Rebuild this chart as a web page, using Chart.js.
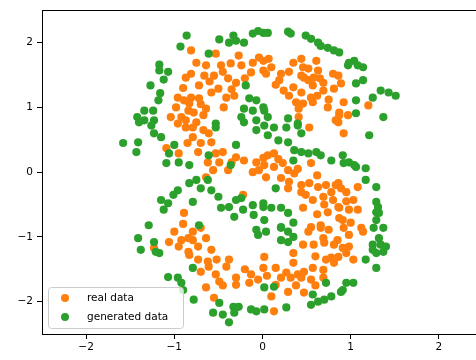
<!DOCTYPE html>
<html>
<head>
<meta charset="utf-8">
<script src="https://cdn.jsdelivr.net/npm/chart.js@4.4.0/dist/chart.umd.min.js"></script>
<style>
  html, body { margin: 0; padding: 0; overflow: hidden; background: #fff; }
  canvas { display: block; }
</style>
</head>
<body>
<canvas id="canvas"></canvas>
<script>
// Tick labels
const xTicks = [-2, -1, 0, 1, 2];
const yTicks = [-2, -1, 0, 1, 2];

// Series: [x, y] pairs
const realData = [
  [-0.81,1.88],[-0.87,1.46],[-0.81,1.52],[-0.96,1.15],[-0.89,1.11],[-0.98,1.00],[-0.84,0.95],[-0.92,0.85],[-1.04,0.85],[-0.87,0.80],
  [-0.53,1.83],[-0.75,1.69],[-0.64,1.65],[-0.47,1.65],[-0.36,1.68],[-0.27,1.80],[-0.24,1.65],[-0.11,1.69],[-0.04,1.77],[-0.13,1.54],
  [0.01,1.57],[-0.66,1.49],[-0.55,1.49],[-0.39,1.45],[-0.30,1.38],[-0.72,1.34],[-0.50,1.29],[-0.58,1.23],[-0.41,1.15],[-0.32,1.18],
  [-0.81,1.15],[-0.72,1.14],[-0.83,1.06],[-0.64,0.98],[-0.44,1.00],[-0.78,0.92],[-0.67,0.88],[-0.75,0.77],
  [0.07,1.75],[0.01,1.72],[0.35,1.69],[0.44,1.75],[0.61,1.72],[0.46,1.62],[0.21,1.52],[0.04,1.52],[0.44,1.49],[0.47,1.46],
  [0.52,1.42],[0.58,1.46],[0.63,1.57],[0.80,1.52],[0.57,1.34],[0.69,1.38],[0.19,1.42],[0.81,1.29],[0.24,1.26],[0.35,1.31],
  [0.44,1.23],[0.69,1.26],[0.55,1.15],[0.57,1.08],[0.38,1.08],[0.46,1.06],[0.41,0.98],[0.74,1.00],[0.87,0.92],[0.41,0.85],[0.83,0.80],
  [0.86,1.49],[0.89,1.37],[0.92,1.08],[1.20,1.03],[0.87,0.88],[0.97,0.88],
  [-0.60,1.40],[-0.45,1.55],[-0.20,1.45],[0.10,1.62],[0.30,1.55],[0.52,1.60],[0.65,1.45],[0.30,1.18],[0.62,1.18],[-0.35,1.28],
  [-0.90,1.30],[-0.70,1.05],[0.75,1.12],[0.15,1.35],
  [-0.96,0.75],[-0.87,0.69],[-1.09,0.37],[-0.95,0.29],[-0.89,-0.63],
  [-0.79,0.69],[-0.67,0.65],[-0.61,0.60],[-0.79,0.54],[-0.58,0.46],[-0.73,0.31],[-0.53,0.29],[-0.45,0.31],[-0.49,0.15],[-0.30,0.23],
  [-0.21,0.18],[-0.07,0.15],[0.01,0.22],[-0.56,0.03],[-0.39,0.03],[-0.11,0.00],[-0.04,0.03],[-0.64,-0.08],[-0.22,-0.35],
  [-0.70,0.45],[-0.62,0.15],[-0.35,0.15],[-0.85,0.45],
  [0.53,0.69],[0.06,0.26],[0.13,0.29],[0.23,0.14],[0.02,0.11],[0.13,0.08],[0.29,0.03],[0.36,-0.02],[0.04,-0.08],[0.21,-0.09],
  [0.55,0.14],[0.30,-0.15],[0.44,-0.20],[0.53,-0.17],[0.63,-0.23],[0.72,-0.20],[0.83,-0.20],[0.78,-0.31],[0.89,-0.25],[0.29,-0.25],
  [0.44,-0.31],[0.49,-0.35],[0.57,-0.43],[0.69,-0.38],[0.80,-0.43],[0.86,-0.54],[0.74,-0.62],[0.46,-0.55],[0.87,-0.71],[0.66,-0.82],[0.55,-0.85],
  [0.18,0.20],[0.40,0.05],[0.62,-0.05],[0.70,-0.50],[0.62,-0.65],[0.95,-0.45],
  [0.86,0.77],[0.92,0.60],[0.86,-0.17],[0.95,-0.31],[1.08,-0.23],[1.03,-0.43],[0.87,-0.55],[0.98,-0.58],[1.08,-0.58],[0.91,-0.74],[1.00,-0.78],[1.12,-0.86],
  [-1.00,-0.92],[-1.06,-1.08],[-0.92,-1.05],[-0.84,-1.02],[-1.23,-1.17],[-0.83,-1.28],
  [-0.79,-0.92],[-0.70,-0.86],[-0.64,-1.02],[-0.79,-1.05],[-0.73,-1.15],[-0.58,-1.20],[-0.84,-1.23],[-0.73,-1.35],[-0.62,-1.38],[-0.61,-1.46],
  [-0.70,-1.54],[-0.38,-1.35],[-0.41,-1.46],[-0.53,-1.58],[-0.49,-1.69],[-0.30,-1.63],[-0.30,-1.74],[-0.13,-1.58],[-0.05,-1.66],[-0.15,-1.71],
  [0.02,-1.31],[-0.64,-1.78],[-0.55,-1.94],
  [-0.90,-0.80],[-0.52,-1.35],[-0.45,-1.75],[-0.20,-1.50],[0.05,-1.60],[-0.95,-1.15],
  [0.52,-0.92],[0.66,-0.86],[0.75,-0.89],[0.69,-1.02],[0.70,-1.09],[0.81,-1.12],[0.46,-1.12],[0.58,-1.12],[0.35,-1.25],[0.78,-1.32],
  [0.72,-1.35],[0.81,-1.40],[0.01,-1.48],[0.15,-1.48],[0.27,-1.55],[0.40,-1.58],[0.47,-1.54],[0.57,-1.48],[0.69,-1.51],[0.21,-1.63],
  [0.32,-1.63],[0.44,-1.63],[0.55,-1.66],[0.69,-1.63],[0.15,-1.74],[0.29,-1.85],[0.47,-1.86],[0.10,-1.92],[0.13,-2.15],
  [0.35,-1.40],[0.60,-1.30],[0.85,-1.05],[0.38,-1.75],[0.60,-1.75],
  [0.92,-0.86],[0.98,-0.97],[1.14,-0.92],[0.91,-1.17],[0.98,-1.15],[0.95,-1.25],[0.86,-1.31],[1.03,-1.35]
];

const generatedData = [
  [-0.86,2.11],[-0.93,1.94],[-1.17,1.66],[-1.07,1.55],[-1.12,1.43],[-1.17,1.57],[-1.27,1.34],[-1.16,1.22],[-1.18,1.11],[-1.34,0.95],
  [-1.24,0.95],[-1.42,0.85],[-1.34,0.80],[-1.23,0.80],
  [-0.49,2.05],[-0.33,2.11],[-0.30,2.03],[-0.38,2.00],[-0.21,2.00],[-0.11,2.14],[-0.05,2.18],[0.01,2.15],[-0.61,1.83],[-0.19,1.34],
  [-0.15,1.14],[-0.07,1.11],[-0.21,0.98],[-0.11,0.95],[0.01,1.00],[-0.24,0.85],[-0.07,0.80],[-0.53,0.75],
  [0.06,2.15],[0.29,2.17],[0.32,2.14],[0.49,2.11],[0.55,2.06],[0.63,2.00],[0.66,1.95],[0.74,1.92],[0.81,1.88],[0.87,1.85],
  [0.02,0.95],[0.06,0.85],[0.29,0.83],[0.40,0.75],
  [0.98,1.69],[1.04,1.72],[1.08,1.65],[1.14,1.62],[0.97,1.65],[1.06,1.37],[1.14,1.42],[1.34,1.26],[1.43,1.23],[1.51,1.18],
  [1.25,1.15],[1.06,1.11],[1.06,0.91],[1.37,0.85],
  [-1.40,0.77],[-1.26,0.72],[-1.23,0.60],[-1.15,0.54],[-1.58,0.45],[-1.41,0.46],[-1.43,0.31],[-1.00,0.42],[-1.06,0.29],[-1.09,0.14],
  [-0.95,0.15],[-0.96,-0.28],[-1.01,-0.35],[-1.15,-0.43],[-1.07,-0.48],[-1.12,-0.58],[-1.29,-0.82],[-0.83,-0.17],
  [-0.53,0.69],[-0.21,0.77],[-0.07,0.65],[-0.30,0.42],[-0.61,0.26],[-0.83,0.11],[-0.36,0.11],[-0.75,-0.12],[-0.62,-0.12],[-0.70,-0.25],
  [-0.58,-0.28],[-0.50,-0.38],[-0.79,-0.46],[-0.30,-0.43],[-0.24,-0.40],[-0.38,-0.54],[-0.47,-0.55],[-0.22,-0.58],[-0.11,-0.51],[0.01,-0.48],
  [-0.32,-0.69],[-0.10,-0.66],[-0.72,-0.82],
  [0.02,0.72],[0.13,0.69],[0.27,0.69],[0.40,0.72],[0.44,0.60],[0.06,0.57],[0.18,0.49],[0.29,0.46],[0.36,0.34],[0.44,0.31],
  [0.52,0.29],[0.61,0.31],[0.66,0.26],[0.78,0.18],[0.35,0.18],[0.15,-0.25],[0.01,-0.54],[0.10,-0.55],[0.21,-0.55],[0.29,-0.63],
  [0.02,-0.74],[0.21,-0.85],[0.35,-0.78],
  [1.21,0.57],[0.91,0.26],[0.98,0.15],[0.92,0.14],[1.04,0.11],[1.06,0.08],[1.17,0.06],[1.17,-0.12],[1.29,-0.23],[1.29,-0.46],
  [1.31,-0.54],[1.29,-0.62],[1.32,-0.63],[1.29,-0.74],[1.26,-0.86],[1.37,-0.86],
  [-1.41,-1.02],[-1.38,-1.20],[-1.23,-1.08],[-1.21,-1.23],[-1.17,-1.25],[-1.07,-1.62],[-0.96,-1.63],[-0.92,-1.71],[-0.90,-1.82],
  [-0.07,-0.89],[-0.05,-0.97],[0.04,-0.92],[-0.79,-1.48],[-0.78,-1.97],[-0.49,-2.02],[-0.56,-2.17],[-0.45,-2.20],[-0.38,-2.32],[-0.33,-2.08],
  [-0.27,-2.08],[-0.32,-2.17],[-0.13,-2.12],[-0.07,-2.15],[0.02,-2.12],
  [0.21,-0.86],[0.29,-0.92],[0.35,-1.00],[0.29,-1.08],[0.21,-1.05],[0.02,-1.78],[0.13,-1.77],[0.57,-1.89],[0.55,-2.05],[0.63,-2.00],
  [0.70,-1.97],[0.78,-1.92],[0.72,-1.71],[0.89,-1.85],[0.27,-2.09],
  [1.32,-1.02],[1.25,-1.12],[1.34,-1.12],[1.40,-1.15],[1.25,-1.20],[1.29,-1.25],[1.37,-1.23],[1.17,-1.35],[1.29,-1.48],[0.95,-1.71],
  [1.03,-1.71],[0.91,-1.82]
];

const seriesNames = ['real data', 'generated data'];
const seriesColors = ['#ff7f0e', '#2ca02c'];

const FONT = '"DejaVu Sans", sans-serif';
const minus = v => String(v).replace('-', '\u2212');

// Top/right spines like matplotlib's frame
const framePlugin = {
  id: 'frame',
  afterDraw(chart) {
    const { ctx, chartArea: a } = chart;
    ctx.save();
    ctx.strokeStyle = '#000';
    ctx.lineWidth = 1;
    ctx.beginPath();
    ctx.moveTo(Math.round(a.left) + 0.5, Math.round(a.top) + 0.5);
    ctx.lineTo(Math.round(a.right) + 0.5, Math.round(a.top) + 0.5);
    ctx.lineTo(Math.round(a.right) + 0.5, Math.round(a.bottom) + 0.5);
    ctx.stroke();
    ctx.restore();
  }
};

// Legend box in the lower left corner
const legendPlugin = {
  id: 'boxLegend',
  afterDatasetsDraw(chart) {
    const { ctx, chartArea: a } = chart;
    const x = a.left + 6, w = 135, h = 41;
    const y = a.bottom - 6 - h;
    ctx.save();
    ctx.beginPath();
    ctx.roundRect(x + 0.5, y + 0.5, w, h, 3);
    ctx.fillStyle = 'rgba(255,255,255,0.8)';
    ctx.fill();
    ctx.strokeStyle = '#cccccc';
    ctx.lineWidth = 1;
    ctx.stroke();
    ctx.font = '10.5px ' + FONT;
    ctx.textBaseline = 'middle';
    seriesNames.forEach((name, i) => {
      const cy = y + 11 + i * 19;
      ctx.beginPath();
      ctx.arc(x + 17, cy, 4, 0, Math.PI * 2);
      ctx.fillStyle = seriesColors[i];
      ctx.fill();
      ctx.fillStyle = '#000';
      ctx.fillText(name, x + 39, cy);
    });
    ctx.restore();
  }
};

const canvas = document.getElementById('canvas');
canvas.width = 500;
canvas.height = 360;

const toPoints = arr => arr.map(p => ({ x: p[0], y: p[1] }));

new Chart(canvas.getContext('2d'), {
  type: 'scatter',
  data: {
    datasets: [
      {
        label: seriesNames[0],
        data: toPoints(realData),
        backgroundColor: seriesColors[0],
        borderWidth: 0,
        pointRadius: 4.1,
        pointHoverRadius: 4.1,
        order: 2
      },
      {
        label: seriesNames[1],
        data: toPoints(generatedData),
        backgroundColor: seriesColors[1],
        borderWidth: 0,
        pointRadius: 4.1,
        pointHoverRadius: 4.1,
        order: 1
      }
    ]
  },
  options: {
    responsive: false,
    animation: false,
    events: [],
    layout: { padding: { top: 9, left: 0, right: 17, bottom: 0 } },
    plugins: { legend: { display: false }, tooltip: { enabled: false } },
    scales: {
      x: {
        type: 'linear',
        min: -2.5,
        max: 2.5,
        afterBuildTicks: s => { s.ticks = xTicks.map(v => ({ value: v })); },
        afterFit: s => { s.height = 26; },
        grid: { display: true, drawOnChartArea: false, drawTicks: true, tickLength: 5, color: '#000' },
        border: { display: true, color: '#000', width: 1 },
        ticks: { color: '#000', padding: 2, maxRotation: 0, font: { family: FONT, size: 10.5 }, callback: v => minus(v) }
      },
      y: {
        type: 'linear',
        min: -2.5,
        max: 2.5,
        afterBuildTicks: s => { s.ticks = yTicks.map(v => ({ value: v })); },
        afterFit: s => { s.width = 42; },
        grid: { display: true, drawOnChartArea: false, drawTicks: true, tickLength: 5, color: '#000' },
        border: { display: true, color: '#000', width: 1 },
        ticks: { color: '#000', padding: 4, font: { family: FONT, size: 10.5 }, callback: v => minus(v) }
      }
    }
  },
  plugins: [framePlugin, legendPlugin]
});
</script>
</body>
</html>
